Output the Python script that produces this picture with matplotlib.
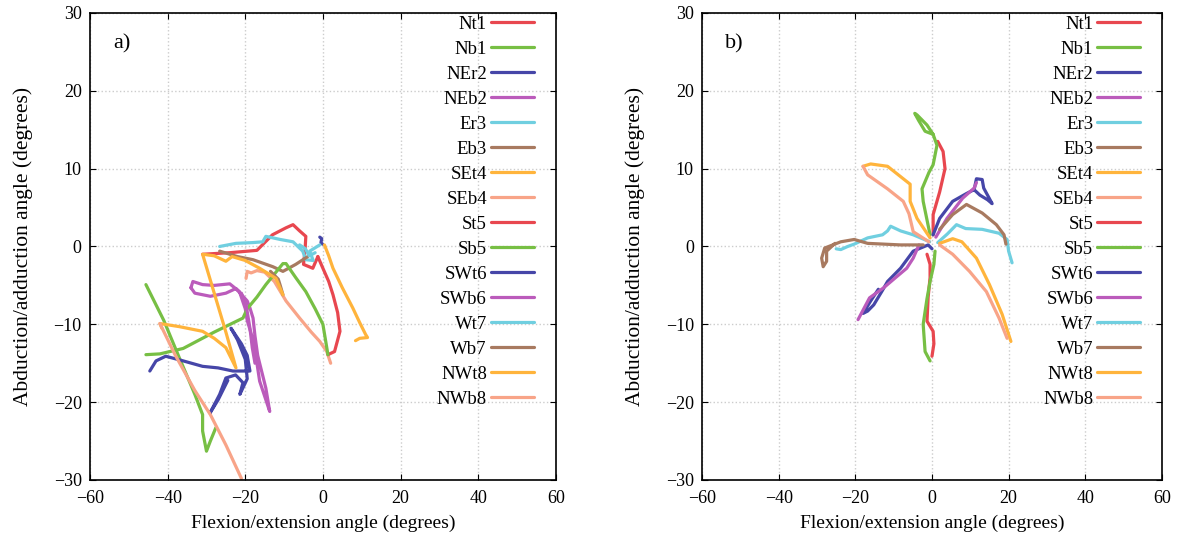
import matplotlib.pyplot as plt

plt.rcParams['font.family'] = ['Liberation Serif', 'DejaVu Serif']

labels = ['Nt1', 'Nb1', 'NEr2', 'NEb2', 'Er3', 'Eb3', 'SEt4', 'SEb4',
          'St5', 'Sb5', 'SWt6', 'SWb6', 'Wt7', 'Wb7', 'NWt8', 'NWb8']
colors = ['#e8474f', '#77bf44', '#4646a8', '#bb5bbb', '#70cfe0', '#a87a60',
          '#ffb43c', '#f8a488'] * 2

# panel a) traces, (flexion, abduction) in degrees
a_traces = {
    'Nt1': [(-31, -1), (-24, -0.8), (-17, -0.5), (-13, 1.5), (-9.5, 2.4), (-7.7, 2.8),
            (-6, 2), (-4.4, 1.3), (-4.6, -0.5), (-5, -2.3), (-2.6, -2.8), (-1.3, -1.3)],
    'St5': [(-1.3, -1.3), (0, -2.8), (1.5, -4.5), (2.6, -6.2), (3.8, -8.5), (4.4, -10.9),
            (3, -13.5), (1.3, -13.9)],
    'Nb1': [(-45.6, -4.9), (-41, -9.5), (-37, -14.3), (-33, -19), (-31, -21.6),
            (-31, -23.7), (-30, -26.3), (-29, -25), (-27.6, -23.3)],
    'Sb5': [(-45.6, -13.9), (-42, -13.8), (-36, -13.1), (-28, -11), (-20.6, -9.2),
            (-19.5, -8), (-17, -6.5), (-14.7, -4.9), (-10.3, -2.2), (-9.5, -2.2),
            (-7, -4), (-4.4, -5.8), (-2, -8), (0, -10), (1.3, -13.9)],
    'NEr2': [(-0.8, 1.2), (-0.3, 1.0), (-0.5, 0.5), (-0.1, 0.3)],
    'SWt6': [(-44.6, -16), (-43, -14.7), (-40.5, -14.1), (-36, -14.7), (-31, -15.4),
             (-27, -15.6), (-23.2, -16), (-18.8, -16), (-19.5, -14), (-21, -12.5),
             (-23.7, -10.5), (-22, -12), (-20, -14.5), (-19.5, -17), (-21.4, -19),
             (-20.6, -17.5), (-22.5, -16.5), (-25, -16.9), (-26.6, -19), (-29.1, -21.4),
             (-27, -19.7), (-24.5, -17.2)],
    'NEb2': [(-34, -5.3), (-33, -6), (-29, -6.4), (-25, -6), (-22.4, -5.4),
             (-19.5, -7), (-18.8, -7.9), (-18, -9.2), (-17.5, -11.5), (-16.8, -14),
             (-15.8, -16), (-14.7, -18.2), (-13.7, -21.2), (-14.5, -20), (-16.3, -17.3),
             (-17, -15), (-18, -12), (-19.5, -9.5), (-20, -8), (-21.5, -5.8),
             (-24, -4.8), (-28, -5), (-31, -4.9), (-33.5, -4.5), (-34, -5.3)],
    'SWb6': [(-21, -6), (-19.8, -7.5), (-18.8, -10.5), (-18.2, -13), (-17.5, -15)],
    'Er3': [(-26.6, 0), (-22.4, 0.4), (-18, 0.5), (-15.5, 0.6), (-14.7, 1.3),
            (-11, 0.9), (-7.7, 0.6), (-5.2, -0.6), (-4.4, -1.7), (-2.5, -1.8),
            (-3.4, -0.6), (-0.8, 0.2)],
    'Wt7': [(-6, 0.2), (-4.5, -0.3), (-3.5, -1.2), (-2, -0.8)],
    'Eb3': [(-26.6, -0.6), (-22, -1.3), (-18, -1.7), (-12.9, -2.6), (-10.3, -3.2),
            (-7, -2.3), (-3.9, -1.3)],
    'Wb7': [(-13.5, -3.2), (-11.5, -4.2), (-11, -5), (-10.3, -6.2)],
    'SEt4': [(0.4, 0.2), (1.5, -1.2), (2.6, -2.8), (5, -5.3), (7.7, -7.9), (9.5, -9.8),
             (11, -11.3), (11.5, -11.7), (9.5, -11.8), (8.4, -12.1)],
    'NWt8': [(-10.3, -6.2), (-12.1, -4.1), (-16.3, -2.8), (-20, -1.8), (-23.4, -1.3),
             (-25, -1.9), (-28, -1.2), (-31, -1), (-28, -6), (-25, -11), (-22.4, -15.6),
             (-25, -13), (-28, -11.8), (-31, -10.9), (-37, -10.3), (-42, -9.9),
             (-41.5, -10.5)],
    'SEb4': [(-19.8, -4.1), (-19.5, -3.2), (-18.5, -3.4), (-17, -3.1), (-15, -3.3),
             (-12.5, -4.5), (-9.5, -7), (-6, -9.2), (-3, -11), (-0.8, -12.2),
             (1, -13.5), (2, -15)],
    'NWb8': [(-42, -9.9), (-38, -14), (-33, -18.5), (-29, -21.6), (-25, -25.5),
             (-21, -29.8)],
}

# panel b) traces
b_traces = {
    'Nt1': [(0.3, 1.5), (0.3, 4.1), (2, 7), (3.4, 10), (2.9, 12.2), (1.5, 13.5)],
    'Nb1': [(-0.5, 1.5), (-2.3, 5.8), (-2.6, 7.4), (-0.8, 9.5), (0.3, 10.5), (1.3, 13),
            (0.3, 14.4), (-1.3, 15.6), (-3.9, 16.9), (-4.5, 17.1), (-3.5, 16.2),
            (-1.8, 14.8), (0.3, 14.4)],
    'NEr2': [(0.3, 1.5), (2, 3.6), (5.4, 5.8), (9, 6.8), (11, 7.3), (11.6, 8.7),
             (13.1, 8.6), (13.5, 7.5), (15.7, 5.5), (14.5, 6), (12.5, 6.6), (11.2, 7.2)],
    'NEb2': [(1, 1.2), (3.9, 3.6), (8, 6.2), (11, 7.5), (11.6, 8.2)],
    'Er3': [(1.5, 0.5), (4, 1.6), (6.4, 2.8), (8.8, 2.3), (13.1, 2.2), (17.5, 1.7),
            (19.6, 0.9), (20, -0.6), (20.9, -2.1)],
    'Eb3': [(2, 2.2), (5.4, 4.1), (9, 5.4), (13.1, 4.3), (16.8, 2.8), (18.8, 1.5),
            (19.3, 0.3)],
    'SEt4': [(2, 0.4), (5.4, 1), (7.8, 0.6), (11.6, -1.5), (15, -4.9), (18.3, -8.7),
             (20.6, -12.2)],
    'SEb4': [(2, 0.2), (5.4, -1), (9.8, -3.2), (14.2, -5.8), (17.5, -9.2), (19.6, -11.8)],
    'St5': [(-1.3, -1), (-0.5, -2.3), (-0.5, -4), (-1, -6.5), (-1.3, -9.6), (0.3, -10.9),
            (0.5, -12.5), (0, -14.1)],
    'Sb5': [(0.8, -0.6), (0.5, -2.3), (-0.5, -4.5), (-1.3, -6.7), (-2.3, -10),
            (-1.8, -13.5), (-0.5, -14.7)],
    'SWt6': [(0, -0.3), (-1, 0.2), (-4.9, -0.6), (-8.2, -2.8), (-11.6, -4.5), (-13, -5.7),
             (-15.2, -7.5), (-16.8, -8.3), (-18, -8.6), (-16, -7), (-14, -5.5)],
    'SWb6': [(-3.4, 0.2), (-4.9, -1.5), (-6.6, -2.8), (-9.5, -4), (-12.6, -5.3),
             (-16.3, -6.6), (-19.3, -9.4)],
    'Wt7': [(-0.6, 0.6), (-4.9, 1.5), (-8.2, 2), (-10.8, 2.6), (-11.6, 2), (-12.9, 1.5),
            (-16.8, 1.1), (-20.3, 0.3), (-22, 0), (-23.8, -0.4), (-25, -0.3)],
    'Wb7': [(-2.3, 0.2), (-8.2, 0.2), (-16.8, 0.4), (-20.3, 0.9), (-23.8, 0.6),
            (-28, -0.2), (-28.8, -1.5), (-28.4, -2.6), (-27.5, -1.9), (-27.5, -0.6),
            (-25.3, 0.4)],
    'NWt8': [(-0.5, 1.1), (-3.9, 3.6), (-5.7, 5.8), (-5.7, 8), (-7.5, 8.7), (-11.6, 10.3),
             (-16, 10.6), (-18, 10.3)],
    'NWb8': [(-18, 10.3), (-16.8, 9.2), (-11.6, 7.4), (-7.5, 5.8), (-6, 4.2),
             (-4.9, 1.9), (-0.8, 0.6)],
}

xticks = [-60, -40, -20, 0, 20, 40, 60]
yticks = [-30, -20, -10, 0, 10, 20, 30]

fig = plt.figure(figsize=(11.88, 5.58), dpi=100)
ax_a = fig.add_axes([0.0758, 0.1398, 0.392, 0.837])
ax_b = fig.add_axes([0.591, 0.1398, 0.387, 0.837])

for ax, traces, tag in [(ax_a, a_traces, 'a)'), (ax_b, b_traces, 'b)')]:
    for lab, col in zip(labels, colors):
        xs = [p[0] for p in traces[lab]]
        ys = [p[1] for p in traces[lab]]
        ax.plot(xs, ys, color=col, lw=2.3, label=lab, solid_capstyle='round')
    ax.set_xlim(-60, 60)
    ax.set_ylim(-30, 30)
    ax.set_xticks(xticks)
    ax.set_yticks(yticks)
    ax.grid(True, color='#cccccc', linestyle=':', linewidth=1.0)
    ax.tick_params(direction='in', top=True, right=True, labelsize=13, length=4)
    ax.tick_params(axis='x', pad=7)
    ax.tick_params(axis='y', pad=6)
    for s in ax.spines.values():
        s.set_linewidth(1.2)
    ax.text(-54, 26, tag, fontsize=16, va='center', ha='left')
    ax.set_xlabel('Flexion/extension angle (degrees)', fontsize=14, labelpad=6)
    ax.set_ylabel('Abduction/adduction angle (degrees)', fontsize=15.5, labelpad=15)
    ax.legend(loc='upper right', bbox_to_anchor=(0.969, 1.01), borderaxespad=0,
              frameon=False, markerfirst=False, fontsize=13.5,
              handlelength=2.3, labelspacing=0.42, handletextpad=0.2)

fig.savefig('out.png', dpi=100)
